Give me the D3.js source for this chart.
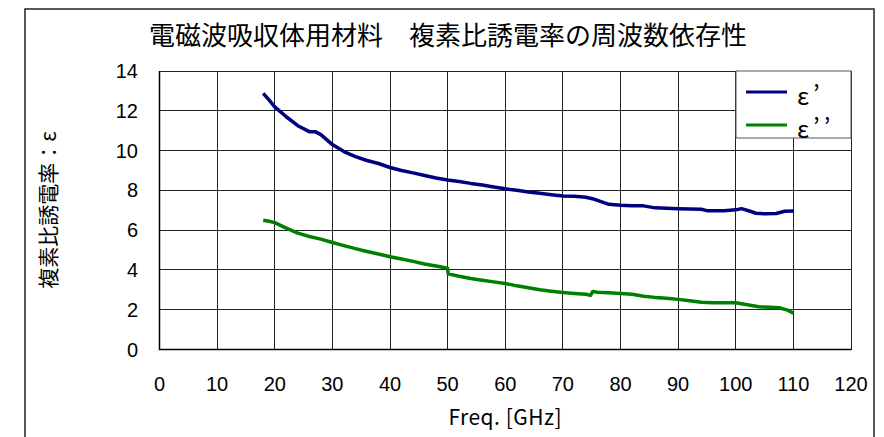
<!DOCTYPE html>
<html lang="ja">
<head>
<meta charset="UTF-8">
<title>複素比誘電率の周波数依存性</title>
<style>
  * { margin: 0; padding: 0; }
  body { background: #fff; width: 884px; height: 437px; overflow: hidden; }
  svg { display: block; font-family: 'Noto Sans CJK JP', sans-serif; }
  .grid line { stroke: #222; stroke-width: 1; shape-rendering: crispEdges; }
  .tick-label { font-family: 'Liberation Sans', Arial, sans-serif; font-size: 20px; fill: #000; }
</style>
</head>
<body>
<svg width="884" height="437"></svg>
<script src="https://d3js.org/d3.v7.min.js"></script>
<script>
// data (freq in GHz)
const xTicks = [0, 10, 20, 30, 40, 50, 60, 70, 80, 90, 100, 110, 120];
const yTicks = [0, 2, 4, 6, 8, 10, 12, 14];

const freq1 = [18, 19, 20, 22, 24, 26, 27, 28, 30, 32, 34, 36, 38, 40, 42, 44, 46, 48, 50, 52, 54, 56, 58, 60,
  62, 64, 66, 68, 70, 72, 74, 75.5, 77, 78, 80, 82, 84, 86, 88, 90, 92, 94, 95, 98, 100, 101, 102.5, 103.5,
  105, 107, 108.5, 110];
const eps1 = [12.88, 12.55, 12.2, 11.7, 11.25, 10.95, 10.95, 10.8, 10.3, 9.95, 9.7, 9.5, 9.35, 9.15, 9.0, 8.88,
  8.75, 8.62, 8.52, 8.45, 8.35, 8.27, 8.17, 8.08, 8.0, 7.92, 7.85, 7.78, 7.72, 7.7, 7.65, 7.55, 7.4, 7.3, 7.25,
  7.23, 7.22, 7.12, 7.1, 7.08, 7.06, 7.05, 6.98, 6.98, 7.02, 7.08, 6.95, 6.85, 6.82, 6.84, 6.95, 6.96];

const freq2 = [18, 19, 20, 22, 24, 26, 28, 30, 32, 34, 36, 38, 40, 42, 44, 46, 48, 50, 50.1, 52, 54, 56, 58, 60,
  62, 64, 66, 68, 70, 72, 74, 74.8, 75.2, 76, 78, 80, 82, 84, 86, 88, 90, 92, 94, 96, 98, 100, 102, 104, 106,
  107.5, 109, 110];
const eps2 = [6.5, 6.45, 6.38, 6.1, 5.85, 5.68, 5.55, 5.38, 5.22, 5.07, 4.93, 4.8, 4.66, 4.55, 4.43, 4.3, 4.2,
  4.08, 3.8, 3.68, 3.57, 3.48, 3.4, 3.32, 3.2, 3.1, 3.0, 2.93, 2.87, 2.82, 2.78, 2.72, 2.92, 2.88, 2.85, 2.82,
  2.78, 2.68, 2.62, 2.58, 2.52, 2.45, 2.38, 2.35, 2.35, 2.35, 2.25, 2.15, 2.12, 2.1, 1.98, 1.82];

const seriesNames = ['ε’', 'ε’’'];
const seriesColors = ['#000080', '#008000'];

const svg = d3.select('svg');
const plot = { left: 159.5, right: 851, top: 71, bottom: 349.5 };

const x = d3.scaleLinear().domain([0, 120]).range([plot.left, plot.right]);
const y = d3.scaleLinear().domain([0, 14]).range([plot.bottom, plot.top]);

// outer chart border
svg.append('rect')
  .attr('x', 25).attr('y', 9).attr('width', 849).attr('height', 450)
  .attr('fill', 'none').attr('stroke', '#222').attr('stroke-width', 1.5);

// title
svg.append('text')
  .attr('x', 448).attr('y', 45)
  .attr('text-anchor', 'middle')
  .attr('font-size', 26)
  .text('電磁波吸収体用材料　複素比誘電率の周波数依存性');

// grid
const grid = svg.append('g').attr('class', 'grid');
grid.selectAll('.h').data(yTicks).join('line')
  .attr('x1', plot.left).attr('x2', plot.right)
  .attr('y1', d => y(d)).attr('y2', d => y(d));
grid.selectAll('.v').data(xTicks).join('line')
  .attr('x1', d => x(d)).attr('x2', d => x(d))
  .attr('y1', plot.top).attr('y2', plot.bottom);

// axes frame (left + bottom darker)
svg.append('path')
  .attr('d', `M${plot.left},${plot.top}V${plot.bottom}H${plot.right}`)
  .attr('fill', 'none').attr('stroke', '#000').attr('stroke-width', 1.5);

// tick labels
svg.append('g').selectAll('text').data(yTicks).join('text')
  .attr('class', 'tick-label')
  .attr('x', 138).attr('y', d => y(d))
  .attr('text-anchor', 'end').attr('dominant-baseline', 'central')
  .text(d => d);
svg.append('g').selectAll('text').data(xTicks).join('text')
  .attr('class', 'tick-label')
  .attr('x', d => x(d)).attr('y', 384)
  .attr('text-anchor', 'middle').attr('dominant-baseline', 'central')
  .text(d => d);

// axis titles
svg.append('text')
  .attr('x', x(60)).attr('y', 416)
  .attr('text-anchor', 'middle').attr('dominant-baseline', 'central')
  .attr('font-size', 21).attr('letter-spacing', 0.5)
  .text('Freq. [GHz]');
svg.append('text')
  .attr('transform', 'translate(47,210) rotate(-90)')
  .attr('text-anchor', 'middle').attr('dominant-baseline', 'central')
  .attr('font-size', 21)
  .text('複素比誘電率：ε');

// series
const line = d3.line().x(d => x(d[0])).y(d => y(d[1]));
const series = [d3.zip(freq1, eps1), d3.zip(freq2, eps2)];
svg.append('g').selectAll('path').data(series).join('path')
  .attr('d', line)
  .attr('fill', 'none')
  .attr('stroke', (d, i) => seriesColors[i])
  .attr('stroke-width', 3.5)
  .attr('stroke-linejoin', 'round');

// legend
const legend = svg.append('g');
legend.append('rect')
  .attr('x', 736).attr('y', 71).attr('width', 115).attr('height', 67)
  .attr('fill', '#fff').attr('stroke', '#555').attr('stroke-width', 1);
seriesNames.forEach((name, i) => {
  const ly = 92 + i * 33;
  legend.append('line')
    .attr('x1', 746).attr('x2', 787).attr('y1', ly).attr('y2', ly)
    .attr('stroke', seriesColors[i]).attr('stroke-width', 3);
  legend.append('text')
    .attr('x', 797).attr('y', ly + 2)
    .attr('dominant-baseline', 'central')
    .attr('font-size', 24).attr('letter-spacing', 4)
    .text(name);
});
</script>
</body>
</html>
